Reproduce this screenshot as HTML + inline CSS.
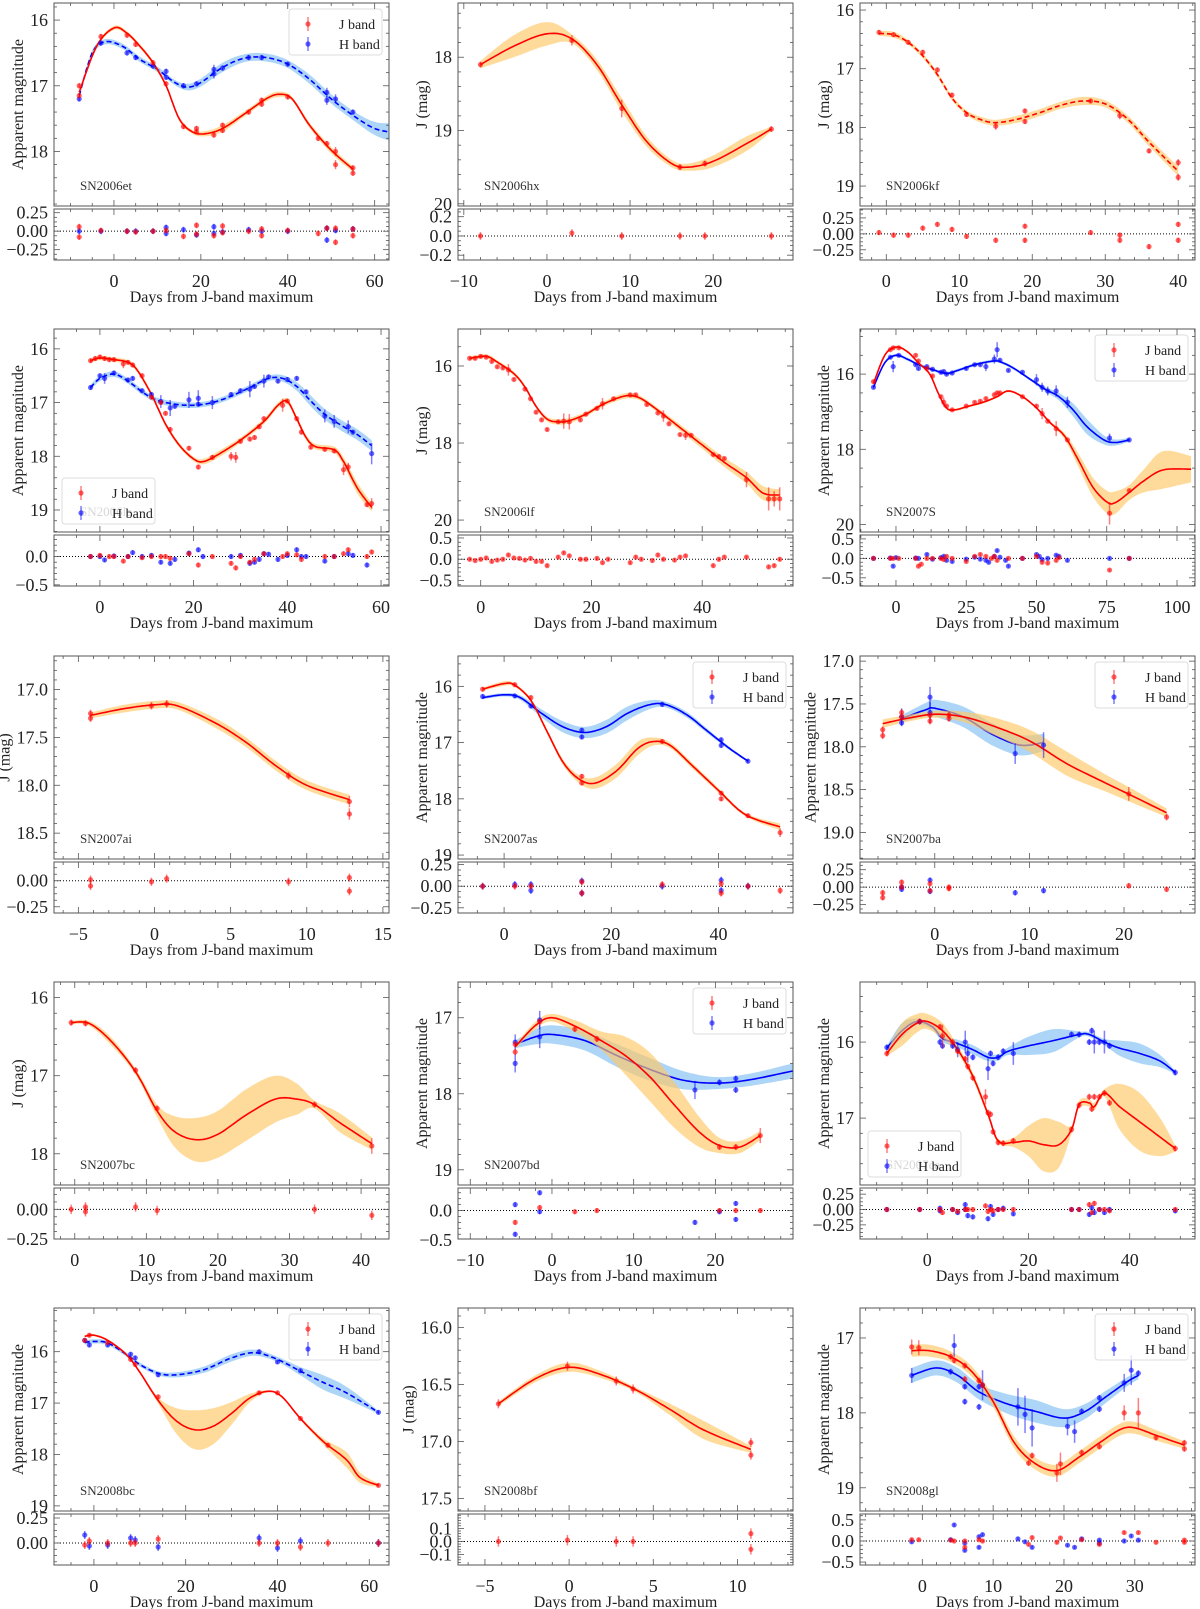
<!DOCTYPE html>
<html><head><meta charset="utf-8"><title>Light curves</title>
<style>
html,body{margin:0;padding:0;background:#fff;}
svg{display:block;font-family:"Liberation Serif",serif;}
</style></head>
<body>
<svg id="fig" width="1200" height="1609" viewBox="0 0 1200 1609" xmlns="http://www.w3.org/2000/svg"></svg>
<script>
// ---------- data arrays ----------
const p1_J=[[-8,17.0],[-8,17.15],[-3,16.25],[3,16.23],[5,16.37],[9,16.65],[12,16.97],[16,17.62],[19,17.65],[19,17.7],[23,17.75],[25,17.6],[25,17.68],[31,17.4],[34,17.22],[34,17.28],[40,17.17],[47,17.8],[49,17.88],[51,18.0,0.07],[51,18.2,0.07],[55,18.25],[55,18.33]];
const p1_Jc=[[-8,17.1,.03],[-4,16.4,.03],[0,16.12,.03],[3,16.2,.03],[6,16.4,.03],[9,16.65,.03],[12,17.0,.03],[15,17.5,.03],[18,17.7,.03],[21,17.73,.04],[25,17.65,.05],[30,17.43,.04],[35,17.2,.04],[38,17.13,.04],[41,17.2,.03],[45,17.6,.04],[50,17.98,.05],[55,18.27,.04]];
const p1_H=[[-8,17.2],[-3,16.35],[3,16.5],[5,16.57],[9,16.7],[12,16.78],[12,16.87],[16,17.0],[19,16.97],[23,16.75,.07],[23,16.82,.07],[25,16.73],[31,16.57],[34,16.57],[40,16.67],[49,17.1,.07],[49,17.22,.07],[51,17.2,.07],[55,17.4]];
const p1_Hc=[[-8,17.15,.04],[-5,16.5,.04],[-2,16.33,.04],[2,16.4,.04],[6,16.6,.04],[10,16.75,.04],[14,16.95,.04],[17,17.02,.05],[20,16.95,.06],[25,16.72,.07],[30,16.58,.06],[35,16.57,.06],[40,16.67,.06],[45,16.9,.07],[50,17.2,.07],[55,17.45,.07],[60,17.65,.1],[65,17.72,.15]];
const p1_Jr=[[-8,0.06],[-8,-0.08],[-3,0.01],[3,0],[5,-0.01],[9,0],[12,0.01],[16,-0.07],[19,0.08],[19,-0.04],[23,-0.06],[25,0.07],[25,-0.02],[31,0],[34,0.03],[34,-0.06],[40,0.01],[47,-0.03],[49,0.04],[51,0.04],[51,-0.15],[55,-0.06],[55,0.03]];
const p1_Hr=[[-8,0],[-3,0],[3,0],[5,0],[9,0],[12,0.05],[12,-0.03],[16,0.02],[19,-0.05],[23,0.06],[23,-0.03],[25,-0.01],[31,0.02],[34,0],[40,0],[49,0.04],[49,-0.12],[51,0.01],[55,0.03]];

const p2_J=[[-8,18.1],[3,17.77,.07],[9,18.7,.12],[16,19.5],[19,19.45],[27,18.98]];
const p2_Jc=[[-8,18.1,.05],[-4,17.85,.15],[0,17.68,.16],[3,17.75,.06],[6,18.1,.07],[9,18.65,.09],[12,19.15,.07],[15,19.45,.05],[17,19.5,.05],[20,19.42,.08],[24,19.18,.1],[27,18.98,.03]];
const p2_Jr=[[-8,0],[3,0.03],[9,0],[16,0],[19,0],[27,0]];

const p3_J=[[-1,16.38],[1,16.42],[3,16.55],[5,16.72],[7,17.02],[9,17.45],[11,17.78],[15,17.98,.06],[19,17.72],[19,17.9],[28,17.55],[32,17.8,.06],[36,18.4],[40,18.6,.06],[40,18.85,.06]];
const p3_Jc=[[-1,16.4,.04],[1,16.42,.05],[3,16.55,.04],[5,16.78,.04],[7,17.1,.04],[9,17.5,.04],[11,17.75,.04],[13,17.87,.05],[15,17.92,.05],[18,17.86,.06],[21,17.75,.06],[24,17.62,.06],[27,17.55,.07],[30,17.6,.06],[33,17.85,.06],[36,18.25,.07],[40,18.75,.08]];
const p3_Jr=[[-1,0.02],[1,-0.02],[3,-0.02],[5,0.09],[7,0.15],[9,0.07],[11,-0.04],[15,-0.1],[19,0.12],[19,-0.1],[28,0.02],[32,-0.02],[32,-0.1],[36,-0.2],[40,0.15],[40,-0.1]];

const p4_J=[[-2,16.22],[-1,16.18],[0,16.15],[1,16.18],[2,16.2],[3,16.2],[5,16.28,.08],[6,16.25],[7,16.3],[9,16.5],[11,16.9],[13,17.0],[14,17.2],[15,17.5],[19,17.85],[21,18.2],[24,18.02],[28,18.0,.08],[29,18.02,.1],[30,17.72],[32,17.68],[33,17.65],[34,17.45],[35,17.3],[39,17.05,.12],[40,16.97],[42,17.3],[43,17.55],[45,17.83],[48,17.87],[50,17.9],[52,18.25,.1],[53,18.2,.08],[57,18.9],[58,18.88,.1]];
const p4_Jc=[[-2,16.22,.04],[0,16.17,.04],[3,16.2,.04],[6,16.25,.04],[8,16.4,.04],[11,16.85,.04],[14,17.4,.04],[17,17.8,.04],[20,18.05,.04],[22,18.1,.05],[25,17.98,.06],[30,17.7,.05],[35,17.35,.05],[38,17.05,.05],[40,16.98,.05],[42,17.3,.05],[44,17.65,.05],[46,17.82,.05],[50,17.88,.06],[52,18.1,.08],[55,18.6,.1],[58,18.95,.08]];
const p4_H=[[-2,16.72],[0,16.5],[1,16.55,.1],[3,16.45],[6,16.58],[7,16.55],[9,16.78],[11,16.85],[13,16.98,.12],[15,17.1,.15],[16,17.07],[19,16.95,.15],[21,16.92,.15],[21,17.03],[24,17.0,.12],[28,16.85],[30,16.78],[32,16.75,.15],[33,16.7],[35,16.6,.12],[36,16.52],[38,16.6],[40,16.57],[42,16.55],[44,16.8],[48,17.25,.12],[50,17.35,.12],[53,17.45,.12],[54,17.55],[58,17.95,.2]];
const p4_Hc=[[-2,16.72,.05],[0,16.55,.05],[3,16.47,.05],[6,16.6,.05],[9,16.8,.05],[12,16.95,.05],[16,17.03,.05],[20,17.05,.05],[24,17.0,.05],[28,16.88,.05],[32,16.72,.05],[36,16.55,.05],[39,16.55,.06],[42,16.7,.08],[45,16.97,.1],[48,17.22,.1],[52,17.45,.1],[55,17.6,.1],[58,17.8,.1]];
const p4_Jr=[[-2,0],[0,0.02],[2,0],[3,0],[5,-0.08],[6,0],[9,-0.02],[11,0],[13,0],[14,0],[15,-0.03],[19,0.05],[21,-0.15],[24,0],[28,-0.12],[29,-0.2],[30,0],[32,-0.1],[33,-0.05],[35,0.05],[39,0],[40,0.05],[42,0.03],[43,-0.05],[48,0],[50,0],[52,0.05],[53,0.12],[57,0],[58,0.08]];
const p4_Hr=[[-2,0],[0,0],[1,-0.06],[3,0.01],[6,0],[7,0.07],[9,0],[11,0.02],[13,-0.1],[15,-0.12],[16,-0.05],[19,0.06],[21,0.12],[22,0],[28,0],[30,0.02],[32,-0.12],[33,-0.1],[34,-0.05],[35,0.05],[36,0.04],[38,-0.05],[40,0.02],[42,0.12],[43,0],[44,0],[48,-0.08],[50,0],[53,0.05],[54,0.02],[57,-0.15]];

const p5_J=[[-2,15.8],[-1,15.8],[0,15.75],[1,15.77],[2,15.88],[3,16.02],[4,16.05],[5,16.1,.15],[6,16.35],[8,16.6],[9,16.85],[10,17.2],[11,17.4],[12,17.65],[14,17.45],[15,17.43,.2],[16,17.45,.2],[18,17.4],[19,17.25],[21,17.1],[22,16.98,.15],[24,16.85],[27,16.75],[28,16.75],[30,17.0],[32,17.22],[33,17.3,.15],[34,17.5],[36,17.78],[37,17.8,.12],[38,17.8],[42,18.3],[43,18.35],[44,18.4],[48,18.95,.2],[52,19.45,.3],[53,19.45,.2],[54,19.45,.3]];
const p5_Jc=[[-2,15.8,.05],[1,15.75,.05],[3,15.9,.05],[6,16.2,.05],[8,16.55,.05],[10,17.05,.05],[12,17.38,.06],[14,17.45,.07],[16,17.42,.07],[19,17.25,.06],[22,17.0,.06],[25,16.82,.07],[27,16.77,.07],[29,16.85,.06],[32,17.15,.06],[36,17.6,.08],[40,18.05,.1],[44,18.5,.12],[48,18.9,.15],[51,19.3,.18],[54,19.35,.15]];
const p5_Jr=[[-2,0],[-1,-0.03],[0,0],[1,0.03],[2,-0.05],[3,-0.02],[4,0],[5,0.1],[6,0.03],[7,0.02],[8,-0.02],[9,0.02],[10,-0.05],[11,-0.05],[12,-0.15],[14,0.05],[15,0.15],[16,0.08],[18,0],[19,0],[21,0.02],[22,-0.08],[23,0],[27,-0.08],[28,0.05],[29,0],[31,-0.03],[32,0.1],[33,0],[35,-0.02],[36,0.05],[37,0.08],[42,-0.15],[43,0],[44,0.05],[48,0.05],[52,-0.18],[53,-0.15],[54,0]];

const p6_J=[[-8,16.2],[-2,15.35],[-1,15.3],[1,15.3],[7,15.5],[8,15.65],[11,15.85],[13,16.05],[16,16.6],[17,16.75,.12],[18,16.85],[20,16.95],[25,16.85],[28,16.75],[30,16.72],[32,16.65],[35,16.55],[36,16.5],[37,16.5],[45,16.6],[50,16.85],[52,17.05,.15],[54,17.25],[57,17.45,.2],[61,17.75],[76,19.7,.3],[83,19.1]];
const p6_Jc=[[-8,16.25,.03],[-4,15.5,.03],[0,15.28,.03],[4,15.4,.03],[8,15.7,.03],[12,16.0,.03],[15,16.5,.03],[18,16.9,.03],[21,16.95,.03],[26,16.85,.03],[31,16.75,.03],[36,16.6,.03],[40,16.45,.03],[45,16.6,.03],[50,16.9,.03],[55,17.3,.04],[60,17.65,.08],[65,18.3,.18],[70,19.0,.25],[75,19.4,.3],[78,19.42,.3],[83,19.15,.2],[88,18.85,.3],[95,18.55,.5],[105,18.53,.35]];
const p6_H=[[-8,16.35],[-2,15.55],[-1,15.8,.15],[1,15.5],[7,15.75],[8,15.85],[11,15.8],[13,15.87],[16,15.95],[17,15.93],[18,16.0],[20,15.97],[25,15.85],[28,15.75],[30,15.75],[32,15.8,.12],[35,15.6,.12],[36,15.35,.2],[37,15.63],[40,15.9],[45,15.95],[50,16.15,.15],[52,16.35,.12],[54,16.45,.12],[57,16.45,.15],[61,16.75,.15],[76,17.7,.12],[83,17.75]];
const p6_Hc=[[-8,16.35,.04],[-4,15.7,.04],[0,15.5,.04],[4,15.6,.04],[8,15.75,.04],[13,15.88,.04],[18,15.98,.04],[22,15.9,.04],[28,15.75,.04],[35,15.65,.04],[38,15.7,.04],[42,15.85,.04],[48,16.15,.04],[53,16.4,.06],[58,16.6,.1],[63,16.95,.17],[68,17.4,.2],[74,17.75,.12],[78,17.82,.08],[83,17.75,.05]];
const p6_Jr=[[-8,0],[-2,0],[-1,0],[1,0],[7,0],[8,-0.2],[9,-0.15],[11,0],[13,0],[16,0],[17,-0.03],[18,0.05],[20,0],[25,-0.08],[28,0.05],[30,0.1],[32,0.05],[34,0],[35,0.05],[36,-0.05],[40,0],[45,0],[50,0.05],[52,-0.1],[54,-0.12],[57,-0.05],[58,0.02],[76,-0.3],[83,0]];
const p6_Hr=[[-8,0],[-2,0.01],[-1,-0.2],[0,0.02],[7,0.01],[8,0],[11,0.1],[13,-0.02],[16,0.02],[17,0.05],[18,-0.05],[20,-0.08],[25,-0.02],[28,0.03],[30,-0.02],[32,-0.05],[33,-0.1],[35,0.05],[36,0.2],[37,0.03],[39,-0.05],[40,-0.2],[45,0],[50,0.1],[51,0.05],[52,-0.03],[54,0],[57,0.08],[58,0.05],[61,-0.05],[76,0],[83,0]];

const p7_J=[[-4.2,17.25],[-4.2,17.3],[-0.2,17.17],[0.8,17.15],[8.8,17.9],[12.8,18.17,.06],[12.8,18.3,.06]];
const p7_Jc=[[-4.2,17.27,.03],[-2,17.2,.04],[0,17.16,.04],[1.5,17.17,.04],[4,17.35,.05],[6,17.55,.05],[8,17.8,.05],[10,18.0,.05],[12.8,18.15,.05]];
const p7_Jr=[[-4.2,0.01],[-4.2,-0.05],[-0.2,-0.01],[0.8,0.02],[8.8,-0.01],[12.8,0.03],[12.8,-0.1]];

const p8_J=[[-4,16.05],[2,15.97],[5,16.2],[14.5,17.6],[14.5,17.72],[29.5,16.98],[40.5,17.9],[40.5,18.0],[45.5,18.3],[51.5,18.6,.08]];
const p8_Jc=[[-4,16.05,.03],[0,15.95,.04],[2,15.98,.03],[5,16.25,.03],[8,16.8,.04],[11,17.35,.05],[14,17.65,.07],[17,17.72,.1],[21,17.5,.12],[25,17.1,.12],[28,16.98,.07],[31,17.05,.05],[35,17.4,.05],[40,17.85,.04],[45,18.28,.03],[51.5,18.5,.06]];
const p8_H=[[-4,16.18],[2,16.17],[5,16.35],[14.5,16.78],[14.5,16.9],[29.5,16.32],[40.5,16.95],[40.5,17.05],[45.5,17.33]];
const p8_Hc=[[-4,16.2,.03],[0,16.15,.03],[3,16.2,.04],[7,16.48,.07],[11,16.72,.1],[15,16.82,.1],[19,16.72,.12],[23,16.48,.12],[27,16.33,.08],[30,16.32,.05],[34,16.5,.05],[38,16.8,.04],[42,17.1,.03],[45.5,17.33,.02]];
const p8_Jr=[[-4,0],[2,0],[5,0],[14.5,0.05],[14.5,-0.08],[29.5,0.02],[40.5,0.03],[40.5,-0.08],[45.5,0],[51.5,-0.05]];
const p8_Hr=[[-4,0],[2,0.02],[5,0.02],[5,-0.05],[14.5,0.06],[14.5,-0.08],[29.5,0],[40.5,0.07],[40.5,-0.05],[45.5,0]];

const p9_J=[[-5.5,17.8],[-5.5,17.87],[-3.5,17.6],[-3.5,17.65],[-0.5,17.63],[-0.5,17.7],[1.5,17.63],[1.5,17.67],[20.5,18.55,.08],[24.5,18.82]];
const p9_Jc=[[-5.5,17.73,.05],[-3,17.67,.04],[0,17.62,.04],[3,17.65,.06],[6,17.75,.1],[10,17.93,.13],[14,18.2,.14],[18,18.42,.1],[21,18.58,.08],[24.5,18.77,.05]];
const p9_H=[[-3.5,17.65,.1],[-3.5,17.72],[-0.5,17.42,.12],[-0.5,17.6,.12],[8.5,18.08,.12],[11.5,17.98,.15]];
const p9_Hc=[[-3.5,17.67,.04],[-1,17.57,.08],[0,17.55,.1],[3,17.65,.12],[6,17.85,.13],[9,17.98,.12],[11.5,17.95,.1]];
const p9_Jr=[[-5.5,-0.08],[-5.5,-0.15],[-3.5,0.07],[-3.5,0],[-0.5,0.05],[-0.5,-0.05],[1.5,0],[1.5,-0.02],[20.5,0.02],[24.5,-0.03]];
const p9_Hr=[[-3.5,0],[-3.5,-0.03],[-0.5,0.1],[-0.5,-0.06],[8.5,-0.08],[11.5,-0.05]];

const p10_J=[[-0.5,16.32],[1.5,16.33],[8.5,16.93],[11.5,17.42],[33.5,17.37],[41.5,17.9,.1]];
const p10_Jc=[[-0.5,16.32,.02],[2,16.33,.03],[5,16.55,.05],[8.5,16.95,.04],[11.5,17.45,.08],[14,17.72,.2],[17,17.82,.28],[20,17.75,.3],[24,17.5,.33],[28,17.3,.3],[31,17.3,.2],[33.5,17.37,.05],[37,17.6,.12],[41.5,17.87,.08]];
const p10_Jr=[[-0.5,0],[1.5,0.02],[1.5,-0.02],[8.5,0.02],[11.5,-0.01],[33.5,0],[41.5,-0.05]];

const p11_J=[[-4.5,17.45],[-4.5,17.35],[-1.5,17.05],[2.8,17.15],[5.5,17.28],[20.5,18.7],[22.5,18.7],[25.5,18.55,.1]];
const p11_Jc=[[-4.5,17.38,.03],[-2,17.1,.05],[0,17.0,.05],[3,17.12,.08],[6,17.3,.12],[9,17.5,.25],[12,17.78,.32],[15,18.15,.3],[18,18.5,.2],[20.5,18.68,.1],[23,18.7,.08],[25.5,18.55,.06]];
const p11_H=[[-4.5,17.32,.1],[-4.5,17.6,.12],[-1.5,17.03,.12],[-1.5,17.25,.15],[17.5,17.95,.12],[20.5,17.85],[22.5,17.8],[22.5,17.95]];
const p11_Hc=[[-4.5,17.35,.05],[-2,17.25,.1],[0,17.22,.12],[4,17.3,.13],[8,17.5,.15],[12,17.68,.15],[16,17.82,.12],[20,17.86,.08],[24,17.82,.08],[29.5,17.7,.1]];
const p11_Jr=[[-4.5,-0.2],[-1.5,0.05],[2.8,-0.02],[5.5,0],[20.5,0],[22.5,0],[25.5,0]];
const p11_Hr=[[-4.5,0.1],[-4.5,-0.4],[-1.5,0.3],[-1.5,-0.02],[17.5,-0.2],[20.5,-0.02],[22.5,0.12],[22.5,-0.15]];

const p12_J=[[-8,16.15],[-1.5,15.73],[2.5,15.8],[3,15.92,.15],[5,16.0],[6,16.12],[7.5,16.22],[8,16.32],[9,16.47],[11.5,16.72,.1],[12,16.93],[12.5,16.95],[13,17.18],[14,17.32],[15,17.33],[17,17.3],[28.5,17.15],[30,16.83],[32,16.72],[32.5,16.88],[33,16.72],[34,16.72],[35,16.67],[36,16.8],[49,17.4]];
const p12_Jc=[[-8,16.15,.03],[-5,15.9,.15],[-2,15.75,.12],[0,15.73,.1],[3,15.85,.1],[6,16.1,.05],[9,16.45,.05],[12,16.95,.04],[14,17.3,.03],[17,17.32,.06],[20,17.3,.2],[23,17.35,.35],[26,17.35,.3],[28.5,17.15,.05],[30,16.82,.05],[32,16.8,.05],[33,16.85,.05],[35,16.67,.05],[38,16.85,.3],[42,17.05,.38],[46,17.25,.25],[49,17.4,.04]];
const p12_H=[[-8,16.07],[-1.5,15.73],[2.5,16.0],[3,16.05],[5,16.05],[6,16.1,.1],[7.5,16.0,.15],[8,16.15,.12],[9,16.2],[12,16.35,.15],[12.5,16.15],[13,16.28],[14,16.2],[15,16.12],[17,16.15,.15],[28.5,15.9],[30,15.9],[32,16.0],[32.5,15.85],[33,16.0,.15],[34,16.0],[35,16.0,.15],[36,16.05],[49,16.4]];
const p12_Hc=[[-8,16.08,.03],[-5,15.85,.1],[-2,15.73,.04],[1,15.8,.04],[3,15.95,.05],[6,16.02,.05],[9,16.1,.06],[12,16.2,.05],[14,16.2,.04],[16,16.12,.05],[20,16.05,.12],[25,15.98,.15],[30,15.9,.04],[32,15.9,.03],[35,16.0,.04],[38,16.08,.1],[42,16.15,.13],[46,16.25,.08],[49,16.4,.02]];
const p12_Jr=[[-8,0],[-1.5,0],[2.5,0],[3,-0.05],[5,0],[6,-0.03],[7.5,0],[8,0],[9,0],[11.5,0.06],[12,-0.03],[12.5,0],[13,-0.02],[14,0],[15,0],[17,0],[28.5,0],[30,0],[32,0.08],[32.5,-0.05],[33,0.1],[34,0],[35,0],[36,-0.02],[49,0]];
const p12_Hr=[[-8,0],[-1.5,0],[2.5,0.02],[2.5,-0.02],[5,0],[6,-0.05],[7.5,0],[7.5,0.08],[8,-0.1],[9,-0.12],[12,-0.15],[12.5,0.05],[13,-0.08],[14,0],[15,0.02],[17,-0.07],[28.5,0],[30,0],[32,-0.08],[32.5,0.03],[33,-0.05],[34,0],[35,-0.05],[36,0],[49,-0.02]];

const p13_J=[[-2,15.78],[-1,15.68],[3,15.82],[8,16.15],[9,16.25],[14,16.88],[36,16.8],[40,16.8],[45,17.3],[51,17.82],[62,18.6]];
const p13_Jc=[[-2,15.7,.02],[0,15.68,.02],[3,15.78,.02],[7,16.05,.02],[10,16.4,.03],[14,16.95,.06],[18,17.35,.25],[22,17.52,.38],[26,17.45,.35],[30,17.2,.22],[34,16.9,.08],[38,16.77,.02],[41,16.88,.02],[45,17.3,.03],[50,17.75,.06],[55,18.1,.15],[58,18.45,.1],[62,18.6,.03]];
const p13_H=[[-2,15.78],[-1,15.87],[3,15.87],[8,16.05],[9,16.12],[14,16.45],[36,16.0],[40,16.2],[45,16.37],[62,17.18]];
const p13_Hc=[[-2,15.82,.04],[0,15.8,.04],[3,15.83,.04],[7,16.05,.04],[10,16.25,.04],[14,16.42,.04],[18,16.45,.05],[24,16.35,.06],[30,16.12,.07],[35,16.02,.06],[40,16.15,.05],[45,16.38,.08],[50,16.6,.14],[55,16.8,.12],[62,17.18,.03]];
const p13_Jr=[[-2,-0.02],[-1,0.02],[3,0],[8,0],[9,0],[14,0.04],[36,0],[40,0],[45,-0.04],[51,0],[62,0]];
const p13_Hr=[[-2,0.08],[-1,-0.03],[3,-0.02],[8,0.05],[9,0.03],[14,-0.04],[36,0.05],[40,-0.05],[45,0.02],[62,0]];

const p14_J=[[-4.2,16.67],[-0.1,16.34],[2.8,16.47],[3.8,16.54],[10.8,17.01],[10.8,17.12]];
const p14_Jc=[[-4.2,16.67,.02],[-2,16.45,.03],[0,16.35,.04],[2,16.42,.03],[4,16.55,.02],[6,16.72,.05],[8,16.9,.08],[10.8,17.07,.03]];
const p14_Jr=[[-4.2,0],[-0.1,0.01],[2.8,0],[3.8,0],[10.8,0.06],[10.8,-0.06]];

const p15_J=[[-1.5,17.12,.1],[-0.5,17.13,.1],[4,17.25],[4.5,17.3],[6,17.37],[6,17.55],[8,17.57],[8.5,17.63],[15,18.67],[15.5,18.57],[19,18.8,.12],[19.5,18.68,.15],[22.5,18.53],[25,18.45],[28.5,18.0,.1],[30.5,18.0,.2],[33,18.33],[37,18.4],[37,18.48]];
const p15_Jc=[[-1.5,17.17,.08],[1,17.17,.08],[4,17.25,.07],[7,17.45,.07],[10,17.85,.07],[13,18.4,.08],[16,18.68,.08],[19,18.77,.08],[22,18.6,.08],[25,18.4,.08],[28,18.22,.08],[30,18.2,.08],[33,18.3,.07],[37,18.43,.05]];
const p15_H=[[-1.5,17.5,.1],[4,17.45],[4.5,17.1,.15],[6,17.65],[6,17.85],[8,17.65],[8,17.92],[8.5,17.63,.2],[13.5,17.92,.25],[14.5,18.02,.25],[15.5,18.2,.25],[20.5,18.18,.12],[21.5,18.25,.15],[22.5,17.98],[25,17.8],[25,17.95],[28.5,17.6,.12],[29.5,17.43,.2],[30.5,17.47]];
const p15_Hc=[[-1.5,17.5,.1],[2,17.4,.1],[5,17.5,.1],[8,17.72,.1],[12,17.88,.13],[16,17.98,.15],[20,18.07,.12],[23,17.98,.1],[26,17.78,.08],[29,17.58,.06],[30.5,17.5,.05]];
const p15_Jr=[[-1.5,0.03],[-0.5,0.03],[4,0.02],[4.5,0],[6,0],[6,-0.15],[8,0.03],[8.5,0],[15,-0.08],[15.5,0.08],[19,-0.03],[19.5,0.07],[22.5,0.03],[25,-0.08],[28.5,0.2],[30.5,0.2],[33,-0.03],[37,0.02],[37,-0.03]];
const p15_Hr=[[-1.5,-0.02],[4,0.03],[4.5,0.38],[6,-0.05],[6,-0.22],[8,0.1],[8,-0.15],[8.5,0.15],[13.5,0.05],[14.5,-0.02],[15.5,-0.15],[20.5,-0.1],[21.5,-0.15],[22.5,0.05],[25,-0.05],[25,0.02],[28.5,0],[29.5,0.12],[30.5,0.02]];

const panelNames=["SN2006et","SN2006hx","SN2006kf","SN2006le","SN2006lf","SN2007S","SN2007ai","SN2007as","SN2007ba","SN2007bc","SN2007bd","SN2007ca","SN2008bc","SN2008bf","SN2008gl"];

// ---------- panel configs ----------
const AM="Apparent magnitude", JM="J (mag)";
const panels=[
 {xl:[-13.8,63.3],yl:[15.74,18.83],xt:[0,20,40,60],yt:[16,17,18],yd:0,rl:[0.30,-0.39],rt:[0.25,0,-0.25],rd:2,lab:AM,leg:"ur",J:p1_J,Jc:p1_Jc,H:p1_H,Hc:p1_Hc,Jr:p1_Jr,Hr:p1_Hr,hDash:true,noRes:true},
 {xl:[-10.7,29.6],yl:[17.26,20.03],xt:[-10,0,10,20],yt:[18,19,20],yd:0,rl:[0.28,-0.25],rt:[0.2,0,-0.2],rd:1,lab:JM,J:p2_J,Jc:p2_Jc,Jr:p2_Jr},
 {xl:[-3.6,42.3],yl:[15.88,19.34],xt:[0,10,20,30,40],yt:[16,17,18,19],yd:0,rl:[0.39,-0.41],rt:[0.25,0,-0.25],rd:2,lab:JM,J:p3_J,Jc:p3_Jc,Jr:p3_Jr,jDash:true},
 {xl:[-9.8,61.7],yl:[15.63,19.41],xt:[0,20,40,60],yt:[16,17,18,19],yd:0,rl:[0.38,-0.52],rt:[0,-0.5],rd:1,lab:AM,leg:"ll",J:p4_J,Jc:p4_Jc,H:p4_H,Hc:p4_Hc,Jr:p4_Jr,Hr:p4_Hr,hDash:true},
 {xl:[-4.1,56.4],yl:[15.04,20.31],xt:[0,20,40],yt:[16,18,20],yd:0,rl:[0.57,-0.63],rt:[0.5,0,-0.5],rd:1,lab:JM,J:p5_J,Jc:p5_Jc,Jr:p5_Jr},
 {xl:[-12.8,106.4],yl:[14.8,20.2],xt:[0,25,50,75,100],yt:[16,18,20],yd:0,rl:[0.6,-0.71],rt:[0.5,0,-0.5],rd:1,lab:AM,leg:"ur",J:p6_J,Jc:p6_Jc,H:p6_H,Hc:p6_Hc,Jr:p6_Jr,Hr:p6_Hr},
 {xl:[-6.6,15.4],yl:[16.65,18.77],xt:[-5,0,5,10,15],yt:[17,17.5,18,18.5],yd:1,rl:[0.18,-0.31],rt:[0,-0.25],rd:2,lab:JM,J:p7_J,Jc:p7_Jc,Jr:p7_Jr},
 {xl:[-8.6,53.9],yl:[15.46,19.07],xt:[0,20,40],yt:[16,17,18,19],yd:0,rl:[0.28,-0.31],rt:[0.25,0,-0.25],rd:2,lab:AM,leg:"ur",J:p8_J,Jc:p8_Jc,H:p8_H,Hc:p8_Hc,Jr:p8_Jr,Hr:p8_Hr},
 {xl:[-7.9,27.5],yl:[16.94,19.31],xt:[0,10,20],yt:[17,17.5,18,18.5,19],yd:1,rl:[0.36,-0.37],rt:[0.25,0,-0.25],rd:2,lab:AM,leg:"ur",J:p9_J,Jc:p9_Jc,H:p9_H,Hc:p9_Hc,Jr:p9_Jr,Hr:p9_Hr},
 {xl:[-2.9,43.9],yl:[15.8,18.4],xt:[0,10,20,30,40],yt:[16,17,18],yd:0,rl:[0.18,-0.25],rt:[0,-0.25],rd:2,lab:JM,J:p10_J,Jc:p10_Jc,Jr:p10_Jr},
 {xl:[-11.5,29.5],yl:[16.53,19.2],xt:[-10,0,10,20],yt:[17,18,19],yd:0,rl:[0.38,-0.48],rt:[0,-0.5],rd:1,lab:AM,leg:"ur",J:p11_J,Jc:p11_Jc,H:p11_H,Hc:p11_Hc,Jr:p11_Jr,Hr:p11_Hr},
 {xl:[-13.3,52.9],yl:[15.21,17.88],xt:[0,20,40],yt:[16,17],yd:0,rl:[0.35,-0.48],rt:[0.25,0,-0.25],rd:2,lab:AM,leg:"ll",J:p12_J,Jc:p12_Jc,H:p12_H,Hc:p12_Hc,Jr:p12_Jr,Hr:p12_Hr},
 {xl:[-8.7,64.3],yl:[15.15,19.1],xt:[0,20,40,60],yt:[16,17,18,19],yd:0,rl:[0.29,-0.22],rt:[0.25,0],rd:2,lab:AM,leg:"ur",J:p13_J,Jc:p13_Jc,H:p13_H,Hc:p13_Hc,Jr:p13_Jr,Hr:p13_Hr,hDash:true},
 {xl:[-6.6,13.3],yl:[15.83,17.61],xt:[-5,0,5,10],yt:[16,16.5,17,17.5],yd:1,rl:[0.21,-0.18],rt:[0.1,0,-0.1],rd:1,lab:JM,J:p14_J,Jc:p14_Jc,Jr:p14_Jr},
 {xl:[-8.8,38.5],yl:[16.6,19.31],xt:[0,10,20,30],yt:[17,18,19],yd:0,rl:[0.64,-0.57],rt:[0.5,0,-0.5],rd:1,lab:AM,leg:"ur",J:p15_J,Jc:p15_Jc,H:p15_H,Hc:p15_Hc,Jr:p15_Jr,Hr:p15_Hr}
];

// ---------- drawing ----------
const NS="http://www.w3.org/2000/svg";
const svg=document.getElementById('fig');
const COLL=[54,458,860], W=335, MH=203, RH=51;
function mk(tag,attrs,parent){const e=document.createElementNS(NS,tag);for(const k in attrs)e.setAttribute(k,attrs[k]);(parent||svg).appendChild(e);return e;}
function fmt(v,d){let s=Math.abs(v).toFixed(d);return (v<0?"\u2212":"")+s;}
function minorDivs(step){let e=Math.pow(10,Math.floor(Math.log10(step)+1e-9));let m=Math.round(step/e*100)/100;return (m===1||m===5||m===10)?5:4;}
function spline(pts,n){
  const out=[];
  for(let i=0;i<pts.length-1;i++){
    const p0=pts[Math.max(0,i-1)],p1=pts[i],p2=pts[i+1],p3=pts[Math.min(pts.length-1,i+2)];
    for(let k=0;k<n;k++){const t=k/n,t2=t*t,t3=t2*t;
      const f=(a,b,c,d)=>0.5*((2*b)+(-a+c)*t+(2*a-5*b+4*c-d)*t2+(-a+3*b-3*c+d)*t3);
      out.push([f(p0[0],p1[0],p2[0],p3[0]),f(p0[1],p1[1],p2[1],p3[1])]);}
  }
  out.push(pts[pts.length-1]);return out;
}
function poly(a){return a.map((p,i)=>(i?"L":"M")+p[0].toFixed(1)+" "+p[1].toFixed(1)).join(" ");}
function labelWidth(vals,d){return Math.max(...vals.map(v=>{const s=fmt(v,d);let w=0;for(const ch of s)w+=(ch==='.'?4.5:(ch==='\u2212'?10:9));return w;}));}
function drawTicks(g,x0,y0,w,h,vals,scale,axis,minorStep,lo,hi){
  const step=minorStep;
  const start=Math.ceil(lo/step-1e-6)*step;
  for(let v=start;v<=hi+1e-9;v+=step){
    const isMaj=vals.some(m=>Math.abs(m-v)<step*0.01);
    const len=isMaj?6:3;const p=scale(v);
    if(axis==='x'){mk('line',{x1:p,x2:p,y1:y0+h,y2:y0+h-len,stroke:'#555','stroke-width':0.8},g);mk('line',{x1:p,x2:p,y1:y0,y2:y0+len,stroke:'#555','stroke-width':0.8},g);}
    else{mk('line',{x1:x0,x2:x0+len,y1:p,y2:p,stroke:'#555','stroke-width':0.8},g);mk('line',{x1:x0+w,x2:x0+w-len,y1:p,y2:p,stroke:'#555','stroke-width':0.8},g);}
  }
}
function drawPoints(g,arr,sx,sy,col,defErr,scaleErr){
  arr.forEach(d=>{const e=(d[2]!==undefined?d[2]:defErr);const x=sx(d[0]),y=sy(d[1]);
    const bar=mk('line',{x1:x,x2:x,y1:sy(d[1]-e*scaleErr),y2:sy(d[1]+e*scaleErr),stroke:col,'stroke-opacity':0.5,'stroke-width':1.5},g);
    
    
    const c=mk('circle',{cx:x,cy:y,r:2.6,fill:col,'fill-opacity':0.6},g);
    
    
  });
}
function drawCurve(g,knots,sx,sy,lineCol,bandCol,dash,name){
  const mid=spline(knots.map(k=>[sx(k[0]),sy(k[1])]),12);
  const up=spline(knots.map(k=>[sx(k[0]),sy(k[1]-k[2])]),12);
  const lo=spline(knots.map(k=>[sx(k[0]),sy(k[1]+k[2])]),12).reverse();
  const band=mk('path',{d:poly(up.concat(lo))+" Z",fill:bandCol,'fill-opacity':0.65,stroke:'none'},g);
  
  
  const ln=mk('path',{d:poly(mid),fill:'none',stroke:lineCol,'stroke-width':1.6},g);
  if(dash)ln.setAttribute('stroke-dasharray','5,3');
  
  
}
function legend(g,x,y){
  const box=mk('rect',{x:x,y:y,width:93,height:46,rx:3,fill:'#fff','fill-opacity':0.8,stroke:'#ddd','stroke-width':1},g);
  
  
  [['J band','#ff0000',15],['H band','#0000ff',35]].forEach(it=>{
    const cy=y+it[2];
    mk('line',{x1:x+19,x2:x+19,y1:cy-7,y2:cy+7,stroke:it[1],'stroke-opacity':0.5,'stroke-width':1.5},g);
    mk('circle',{cx:x+19,cy:cy,r:2.6,fill:it[1],'fill-opacity':0.6},g);
    const t=mk('text',{x:x+50,y:cy+5,'font-size':14,fill:'#222'},g);t.textContent=it[0];
    
    
  });
}
panels.forEach((P,i)=>{
  const col=i%3,row=Math.floor(i/3);
  const L=COLL[col],T=Math.round(3+row*326.3),RT=T+206;
  const g=mk('g',{});
  
  
  const sx=t=>L+(t-P.xl[0])/(P.xl[1]-P.xl[0])*W;
  const sy=m=>T+(m-P.yl[0])/(P.yl[1]-P.yl[0])*MH;
  const sr=r=>RT+(P.rl[0]-r)/(P.rl[0]-P.rl[1])*RH;
  const cid='c'+i, rid='r'+i;
  const cp=mk('clipPath',{id:cid},g);mk('rect',{x:L,y:T,width:W,height:MH},cp);
  const rp=mk('clipPath',{id:rid},g);mk('rect',{x:L,y:RT,width:W,height:RH},rp);
  const yOff=labelWidth(P.yt,P.yd)+13;
  const rOff=labelWidth(P.rt,P.rd)+13;
  if(!P.noRes){const lp=mk('clipPath',{id:'l'+i},g);mk('rect',{x:L-80,y:RT-3,width:80,height:RH+12},lp);
    const rl=mk('text',{x:0,y:0,'font-size':16,fill:'#222','text-anchor':'middle',transform:`translate(${L-rOff},${RT+RH/2}) rotate(-90)`,'clip-path':`url(#l${i})`},g);
    rl.textContent='Residual';
    
    }
  const main=mk('g',{'clip-path':`url(#${cid})`},g);
  const nm=mk('text',{x:L+26,y:T+MH-16,'font-size':13,fill:'#333'},g);nm.textContent=panelNames[i];
  
  
  if(P.Hc)drawCurve(main,P.Hc,sx,sy,'#0000ff','#7fbef2',P.hDash,'h-band');
  drawCurve(main,P.Jc,sx,sy,'#ff0000','#ffc766',P.jDash,'j-band');
  if(P.H)drawPoints(main,P.H,sx,sy,'#0000ff',0.04,1);
  drawPoints(main,P.J,sx,sy,'#ff0000',0.04,1);
  if(P.leg==='ur')legend(g,L+W-100,T+6);
  if(P.leg==='ll')legend(g,L+8,T+MH-54);
  const fr=mk('rect',{x:L,y:T,width:W,height:MH,fill:'none',stroke:'#555','stroke-width':1},g);
  
  
  const xstep=P.xt[1]-P.xt[0], ystep=P.yt[1]-P.yt[0];
  drawTicks(g,L,T,W,MH,P.xt,sx,'x',xstep/minorDivs(xstep),P.xl[0],P.xl[1]);
  drawTicks(g,L,T,W,MH,P.yt,sy,'y',ystep/minorDivs(ystep),P.yl[0],P.yl[1]);
  P.yt.forEach(v=>{const t=mk('text',{x:L-6,y:sy(v)+6,'font-size':18,'text-anchor':'end',fill:'#222'},g);t.textContent=fmt(v,P.yd);
    
    });
  const yl=mk('text',{x:0,y:0,'font-size':16,fill:'#222','text-anchor':'middle',transform:`translate(${L-yOff},${T+MH/2}) rotate(-90)`},g);
  yl.textContent=P.lab;
  
  
  const res=mk('g',{'clip-path':`url(#${rid})`},g);
  mk('line',{x1:L,x2:L+W,y1:sr(0),y2:sr(0),stroke:'#000','stroke-width':1,'stroke-dasharray':'1,2'},res);
  if(P.Hr)drawPoints(res,P.Hr,sx,sr,'#0000ff',0.04,1);
  drawPoints(res,P.Jr,sx,sr,'#ff0000',0.04,1);
  const rf=mk('rect',{x:L,y:RT,width:W,height:RH,fill:'none',stroke:'#555','stroke-width':1},g);
  
  
  const rstep=Math.abs(P.rt[0]-P.rt[1]);
  drawTicks(g,L,RT,W,RH,P.xt,sx,'x',xstep/minorDivs(xstep),P.xl[0],P.xl[1]);
  drawTicks(g,L,RT,W,RH,P.rt,sr,'y',rstep/minorDivs(rstep),P.rl[1],P.rl[0]);
  P.rt.forEach(v=>{const t=mk('text',{x:L-6,y:sr(v)+6,'font-size':18,'text-anchor':'end',fill:'#222'},g);t.textContent=fmt(v,P.rd);
    
    });
  P.xt.forEach(v=>{const t=mk('text',{x:sx(v),y:RT+RH+27,'font-size':18,'text-anchor':'middle',fill:'#222'},g);t.textContent=fmt(v,0);
    
    });
  const xl=mk('text',{x:L+W/2,y:RT+RH+42,'font-size':16,'text-anchor':'middle',fill:'#222'},g);
  xl.textContent='Days from J-band maximum';
  
  
});
</script>
</body></html>
